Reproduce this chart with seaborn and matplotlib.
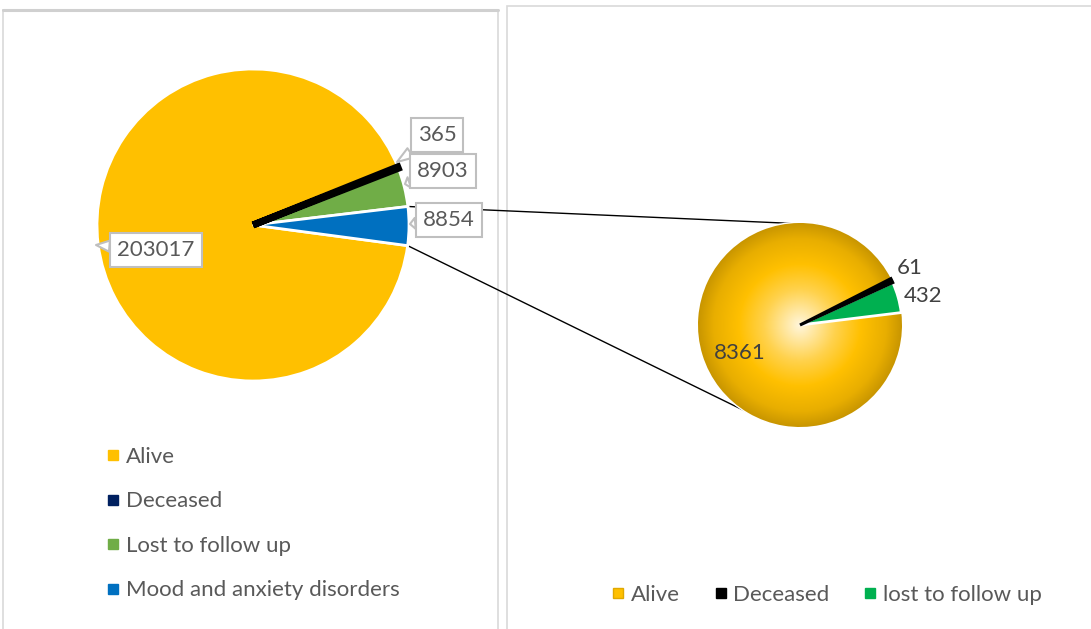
import numpy as np
import matplotlib
matplotlib.use("Agg")
import matplotlib.pyplot as plt
import seaborn as sns
from matplotlib.lines import Line2D
from matplotlib.patches import Rectangle
from matplotlib.colors import LinearSegmentedColormap

sns.set_theme(style="white")
plt.rcParams['font.family'] = ['Lato', 'DejaVu Sans']

# Overall cohort outcomes
main_labels = ["Alive", "Deceased", "Lost to follow up", "Mood and anxiety disorders"]
main_values = [203017, 365, 8903, 8854]
main_colors = ["#FFC000", "#002060", "#70AD47", "#0070C0"]

# Outcomes within the mood and anxiety disorders group
sub_labels = ["Alive", "Deceased", "lost to follow up"]
sub_values = [8361, 61, 432]
sub_colors = ["#FFC000", "#000000", "#00B050"]

W, H = 1091, 629
fig = plt.figure(figsize=(W / 100, H / 100), dpi=100)
ax = fig.add_axes([0, 0, 1, 1])


def py(y):
    """Convert a top-down pixel row to data y."""
    return H - y


TEXT = "#595959"
FS = 16

# Panel frames
ax.add_patch(Rectangle((3, py(660)), 495, 650, fill=False, ec="#D9D9D9", lw=1.2, zorder=0))
ax.plot([3, 498], [py(10), py(10)], color="#D0D0D0", lw=2.2, zorder=0)
ax.add_patch(Rectangle((507, py(660)), 600, 654, fill=False, ec="#D9D9D9", lw=1.2, zorder=0))

# ---- main pie ----
c1 = (253, py(225))
r1 = 156
w1, _ = ax.pie(main_values, colors=main_colors, startangle=352.4, counterclock=False,
               center=c1, radius=r1, frame=True,
               wedgeprops=dict(edgecolor="white", linewidth=2))
w1[1].set_edgecolor("black")
w1[1].set_linewidth(5)
w1[1].set_zorder(5)
for w in w1[2:]:
    w.set_zorder(4)

# value callouts
callout_text = [(156, 250), (437, 135), (443, 171), (449, 220)]
callout_tip = [(96, 245), (397, 162), (405, 184), (410, 224)]
for v, (tx, ty), (px, pyy) in zip(main_values, callout_text, callout_tip):
    ax.annotate(f"{v}", xy=(px, py(pyy)), xytext=(tx, py(ty)), ha="center", va="center",
                fontsize=FS, color=TEXT, zorder=8,
                bbox=dict(boxstyle="square,pad=0.32", fc="white", ec="#BFBFBF", lw=1.5),
                arrowprops=dict(arrowstyle="wedge,tail_width=0.5,shrink_factor=0.5",
                                fc="white", ec="#BFBFBF", lw=1.5, shrinkA=0, shrinkB=0))

# ---- breakdown pie ----
c2 = (800, py(325))
r2 = 102
w2, _ = ax.pie(sub_values, colors=sub_colors, startangle=7, counterclock=False,
               center=c2, radius=r2, frame=True,
               wedgeprops=dict(edgecolor="white", linewidth=2))
w2[0].set_zorder(2)
for w in w2[1:]:
    w.set_zorder(4)
w2[1].set_edgecolor("black")
w2[1].set_linewidth(2.2)
w2[1].set_zorder(5)

# radial shading of the Alive slice
yy, xx = np.mgrid[-1:1:500j, -1:1:500j]
rr = np.sqrt(xx ** 2 + yy ** 2)
gold = LinearSegmentedColormap.from_list(
    "gold", [(0, "#FFF6DC"), (0.35, "#FFD24D"), (0.6, "#FFC000"), (0.85, "#E8AE00"), (1, "#C99600")])
im = ax.imshow(rr, cmap=gold, vmin=0, vmax=1, origin="lower", zorder=3,
               extent=[c2[0] - r2, c2[0] + r2, c2[1] - r2, c2[1] + r2], interpolation="bilinear")
im.set_clip_path(w2[0])

sub_text = [(740, 353), (910, 268), (923, 296)]
for v, (tx, ty) in zip(sub_values, sub_text):
    ax.text(tx, py(ty), f"{v}", ha="center", va="center", fontsize=FS, color="#404040", zorder=8)

# connector lines from the disorders slice to the breakdown pie
blue = w1[3]
for a1, a2 in [(blue.theta2, 80), (blue.theta1, 250)]:
    x0 = c1[0] + r1 * np.cos(np.radians(a1))
    y0 = c1[1] + r1 * np.sin(np.radians(a1))
    x1 = c2[0] + r2 * np.cos(np.radians(a2))
    y1 = c2[1] + r2 * np.sin(np.radians(a2))
    ax.plot([x0, x1], [y0, y1], color="black", lw=1, zorder=1)

# legends
h1 = [Line2D([], [], marker="s", ls="", color=c, markersize=7) for c in main_colors]
leg1 = ax.legend(h1, main_labels, loc="upper left", bbox_to_anchor=(106 / W, 1 - 447 / H),
                 frameon=False, fontsize=FS, labelcolor=TEXT, handlelength=0.65,
                 handletextpad=0.25, labelspacing=1.1, borderpad=0, borderaxespad=0)
ax.add_artist(leg1)

h2 = [Line2D([], [], marker="s", ls="", color=c, markersize=7,
             markeredgecolor=e) for c, e in zip(sub_colors, ["#E0A800", "#000000", "#00B050"])]
ax.legend(h2, sub_labels, loc="upper left", bbox_to_anchor=(611 / W, 1 - 585 / H), ncol=3,
          frameon=False, fontsize=FS, labelcolor=TEXT, handlelength=0.65,
          handletextpad=0.25, columnspacing=1.5, borderpad=0, borderaxespad=0)

ax.set_xlim(0, W)
ax.set_ylim(0, H)
ax.set_aspect("auto")
ax.axis("off")

fig.savefig("out.png", dpi=100)
